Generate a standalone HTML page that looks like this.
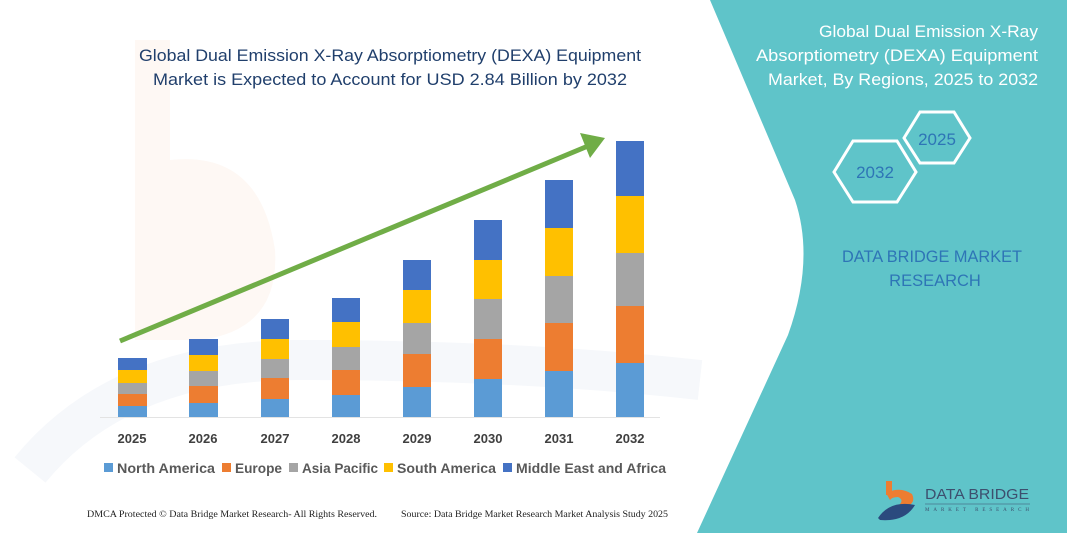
<!DOCTYPE html>
<html><head><meta charset="utf-8"><style>
html,body{margin:0;padding:0;background:#fff}
svg{display:block}
</style></head><body>
<svg width="1067" height="533" viewBox="0 0 1067 533" xmlns="http://www.w3.org/2000/svg" font-family="'Liberation Sans', sans-serif">
<rect width="1067" height="533" fill="#fff"/>
<!-- faint watermark -->
<path d="M135 40 L170 40 L170 160 Q260 150 275 250 Q280 330 200 340 L135 340 Z" fill="#fef8f4"/>
<path d="M30 470 Q120 360 300 360 Q520 360 700 380" stroke="#f6f8fb" stroke-width="40" fill="none"/>
<!-- teal panel -->
<path d="M710 0 L1067 0 L1067 533 L697 533 L788 335 Q815 260 795 200 Z" fill="#5fc4c9"/>
<!-- title -->
<g fill="#203f6c" font-size="17" text-anchor="middle">
<text x="390" y="61" textLength="502" lengthAdjust="spacingAndGlyphs">Global Dual Emission X-Ray Absorptiometry (DEXA) Equipment</text>
<text x="390" y="85" textLength="474" lengthAdjust="spacingAndGlyphs">Market is Expected to Account for USD 2.84 Billion by 2032</text>
</g>
<line x1="100" y1="417.5" x2="660" y2="417.5" stroke="#e3e3e3" stroke-width="1"/>
<g>
<rect x="118" y="406" width="29" height="11" fill="#5b9bd5"/><rect x="118" y="394" width="29" height="12" fill="#ed7d31"/><rect x="118" y="383" width="29" height="11" fill="#a5a5a5"/><rect x="118" y="370" width="29" height="13" fill="#ffc000"/><rect x="118" y="358" width="29" height="12" fill="#4472c4"/>
<rect x="189" y="403" width="29" height="14" fill="#5b9bd5"/><rect x="189" y="386" width="29" height="17" fill="#ed7d31"/><rect x="189" y="371" width="29" height="15" fill="#a5a5a5"/><rect x="189" y="355" width="29" height="16" fill="#ffc000"/><rect x="189" y="339" width="29" height="16" fill="#4472c4"/>
<rect x="261" y="399" width="28" height="18" fill="#5b9bd5"/><rect x="261" y="378" width="28" height="21" fill="#ed7d31"/><rect x="261" y="359" width="28" height="19" fill="#a5a5a5"/><rect x="261" y="339" width="28" height="20" fill="#ffc000"/><rect x="261" y="319" width="28" height="20" fill="#4472c4"/>
<rect x="332" y="395" width="28" height="22" fill="#5b9bd5"/><rect x="332" y="370" width="28" height="25" fill="#ed7d31"/><rect x="332" y="347" width="28" height="23" fill="#a5a5a5"/><rect x="332" y="322" width="28" height="25" fill="#ffc000"/><rect x="332" y="298" width="28" height="24" fill="#4472c4"/>
<rect x="403" y="387" width="28" height="30" fill="#5b9bd5"/><rect x="403" y="354" width="28" height="33" fill="#ed7d31"/><rect x="403" y="323" width="28" height="31" fill="#a5a5a5"/><rect x="403" y="290" width="28" height="33" fill="#ffc000"/><rect x="403" y="260" width="28" height="30" fill="#4472c4"/>
<rect x="474" y="379" width="28" height="38" fill="#5b9bd5"/><rect x="474" y="339" width="28" height="40" fill="#ed7d31"/><rect x="474" y="299" width="28" height="40" fill="#a5a5a5"/><rect x="474" y="260" width="28" height="39" fill="#ffc000"/><rect x="474" y="220" width="28" height="40" fill="#4472c4"/>
<rect x="545" y="371" width="28" height="46" fill="#5b9bd5"/><rect x="545" y="323" width="28" height="48" fill="#ed7d31"/><rect x="545" y="276" width="28" height="47" fill="#a5a5a5"/><rect x="545" y="228" width="28" height="48" fill="#ffc000"/><rect x="545" y="180" width="28" height="48" fill="#4472c4"/>
<rect x="616" y="363" width="28" height="54" fill="#5b9bd5"/><rect x="616" y="306" width="28" height="57" fill="#ed7d31"/><rect x="616" y="253" width="28" height="53" fill="#a5a5a5"/><rect x="616" y="196" width="28" height="57" fill="#ffc000"/><rect x="616" y="141" width="28" height="55" fill="#4472c4"/>
</g>
<line x1="120" y1="341" x2="588" y2="146" stroke="#70ad47" stroke-width="5"/>
<polygon points="605,138 580,133 590,158" fill="#70ad47"/>
<g fill="#404040" font-size="13" font-weight="bold" text-anchor="middle">
<text x="132" y="443">2025</text><text x="203" y="443">2026</text><text x="275" y="443">2027</text><text x="346" y="443">2028</text><text x="417" y="443">2029</text><text x="488" y="443">2030</text><text x="559" y="443">2031</text><text x="630" y="443">2032</text>
</g>
<g font-size="13.5" font-weight="bold" fill="#595959">
<rect x="104" y="463" width="9" height="9" fill="#5b9bd5"/><text x="117" y="473" textLength="98" lengthAdjust="spacingAndGlyphs">North America</text>
<rect x="222" y="463" width="9" height="9" fill="#ed7d31"/><text x="235" y="473" textLength="47" lengthAdjust="spacingAndGlyphs">Europe</text>
<rect x="289" y="463" width="9" height="9" fill="#a5a5a5"/><text x="302" y="473" textLength="76" lengthAdjust="spacingAndGlyphs">Asia Pacific</text>
<rect x="384" y="463" width="9" height="9" fill="#ffc000"/><text x="397" y="473" textLength="99" lengthAdjust="spacingAndGlyphs">South America</text>
<rect x="503" y="463" width="9" height="9" fill="#4472c4"/><text x="516" y="473" textLength="150" lengthAdjust="spacingAndGlyphs">Middle East and Africa</text>
</g>
<g font-family="'Liberation Serif', serif" font-size="9" fill="#222">
<text x="87" y="517" textLength="290" lengthAdjust="spacingAndGlyphs">DMCA Protected © Data Bridge Market Research-  All Rights Reserved.</text>
<text x="401" y="517" textLength="267" lengthAdjust="spacingAndGlyphs">Source: Data Bridge Market Research  Market Analysis Study 2025</text>
</g>
<g fill="#fff" font-size="17" text-anchor="end">
<text x="1038" y="37" textLength="219" lengthAdjust="spacingAndGlyphs">Global Dual Emission X-Ray</text>
<text x="1038" y="61" textLength="282" lengthAdjust="spacingAndGlyphs">Absorptiometry (DEXA) Equipment</text>
<text x="1038" y="85" textLength="270" lengthAdjust="spacingAndGlyphs">Market, By Regions, 2025 to 2032</text>
</g>
<polygon points="904,138 920,112 954,112 970,138 954,163 920,163" fill="none" stroke="#fff" stroke-width="3"/>
<polygon points="834,172 853,141 897,141 916,172 897,202 853,202" fill="none" stroke="#fff" stroke-width="3"/>
<g fill="#2e75b6" font-size="17" text-anchor="middle">
<text x="937" y="145">2025</text>
<text x="875" y="178">2032</text>
</g>
<g fill="#2e75b6" font-size="16.5" text-anchor="middle">
<text x="932" y="262" textLength="180" lengthAdjust="spacingAndGlyphs">DATA BRIDGE MARKET</text>
<text x="935" y="286">RESEARCH</text>
</g>
<g>
<rect x="886" y="481" width="6" height="14" fill="#ed7d31"/>
<path d="M886 493 Q900 486 912 494 Q916 502 908 506 L898 506 Q905 500 898 497 Q892 497 890 500 Z" fill="#ed7d31"/>
<path d="M878 518 Q890 500 915 505 Q905 522 880 520 Z" fill="#2b4a7e"/>
<text x="925" y="499" font-size="15" fill="#3d4f6e" textLength="104" lengthAdjust="spacingAndGlyphs">DATA BRIDGE</text>
<line x1="925" y1="504" x2="1030" y2="504" stroke="#3d4f6e" stroke-width="0.6"/>
<text x="925" y="511" font-size="5" fill="#3d4f6e" textLength="104" lengthAdjust="spacing" font-family="'Liberation Serif', serif">MARKET   RESEARCH</text>
</g>
</svg>
</body></html>
